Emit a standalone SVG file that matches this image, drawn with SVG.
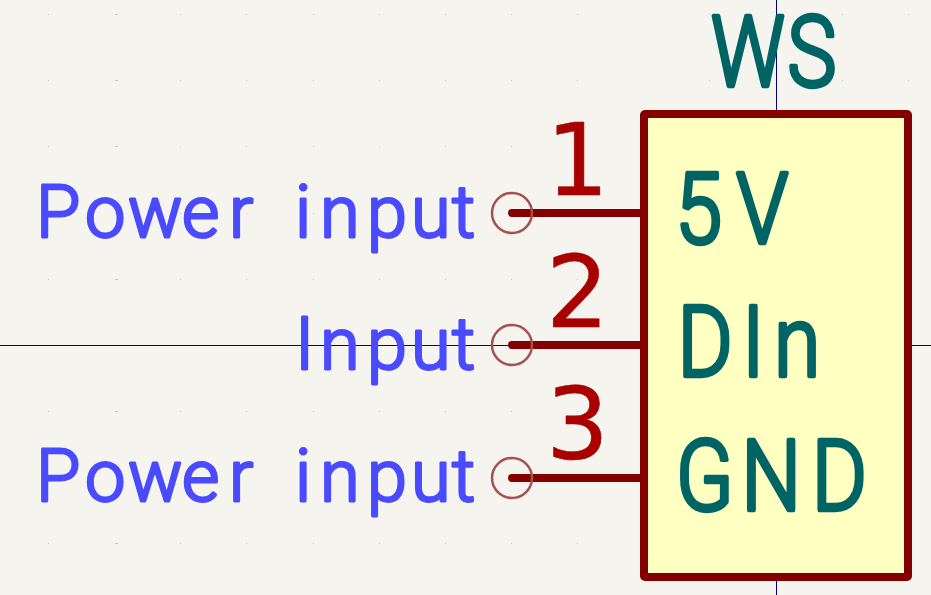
<svg xmlns="http://www.w3.org/2000/svg" width="931" height="595" viewBox="0 0 931 595">
<style>
text{font-family:"Roboto","Liberation Sans",sans-serif;font-weight:300;stroke-linejoin:round;paint-order:stroke}
.blue{fill:#4a4aff;stroke:#4a4aff;stroke-width:2.8;font-size:72px}
.teal{fill:#006464;stroke:#006464;stroke-width:4.4;font-size:98px}
.num{font-family:"DejaVu Sans",sans-serif;font-weight:400;fill:#a90000;stroke:#a90000;stroke-width:.6;font-size:99px}
.pin{stroke:#840000;stroke-width:8;stroke-linecap:round;fill:none}
.end{fill:none;stroke:#a85050;stroke-width:2.5}
.cross{stroke:#000084;stroke-width:1;fill:none}
</style>
<rect width="931" height="595" fill="#f5f4ef"/>
<path id="grid" fill="none" stroke="#c8c8c8" stroke-width="1" d="M48 14.5h1M115 14.5h3M180 14.5h1M246 14.5h1M313 14.5h1M379 14.5h1M445 14.5h1M511 14.5h1M577 14.5h1M709 14.5h1M842 14.5h1M908 14.5h1M48 80.5h1M115 80.5h3M180 80.5h1M246 80.5h1M313 80.5h1M379 80.5h1M445 80.5h1M511 80.5h1M577 80.5h1M709 80.5h1M842 80.5h1M908 80.5h1M48 146.5h1M115 146.5h3M180 146.5h1M246 146.5h1M313 146.5h1M379 146.5h1M445 146.5h1M511 146.5h1M577 146.5h1M48 213.5h1M115 213.5h3M180 213.5h1M246 213.5h1M313 213.5h1M379 213.5h1M445 213.5h1M577 213.5h1M48 279.5h1M115 279.5h3M180 279.5h1M246 279.5h1M313 279.5h1M379 279.5h1M445 279.5h1M511 279.5h1M577 279.5h1M48 411.5h1M115 411.5h3M180 411.5h1M246 411.5h1M313 411.5h1M379 411.5h1M445 411.5h1M511 411.5h1M577 411.5h1M48 543.5h1M115 543.5h3M180 543.5h1M246 543.5h1M313 543.5h1M379 543.5h1M445 543.5h1M511 543.5h1M577 543.5h1"/>
<g id="crosshair">
<path class="cross" d="M0 345.5H931M776.5 0V595"/>
</g>
<g id="symbol">
<rect x="644" y="114" width="264" height="463" rx="1" fill="#ffffc2" stroke="#840000" stroke-width="8" stroke-linejoin="round"/>
<text class="teal" transform="translate(711 86) scale(.84 1)" x="0 91" y="0">WS</text>
<text class="teal" transform="translate(676 243) scale(.86 1)" x="-1 70" y="0">5V</text>
<text class="teal" transform="translate(675 376) scale(.86 1)" x="3 78 115" y="0">DIn</text>
<text class="teal" transform="translate(676 510) scale(.86 1)" x="0 76 158" y="0">GND</text>
</g>
<g id="connectors">
<path class="pin" d="M512 213H640M512 345H640M512 478H640"/>
</g>
<g id="pin1">
<circle class="end" cx="512" cy="213" r="20"/>
<text class="num" x="546" y="194.500">1</text>
<text class="blue" x="36 85 128 182 229 280 295 320 367 411 452" y="236.500">Power input</text>
</g>
<g id="pin2">
<circle class="end" cx="512" cy="345" r="20"/>
<text class="num" x="546" y="326.500">2</text>
<text class="blue" x="295 320 367 411 452" y="368.500">Input</text>
</g>
<g id="pin3">
<circle class="end" cx="512" cy="478" r="20"/>
<text class="num" x="546" y="458.500">3</text>
<text class="blue" x="36 85 128 182 229 280 295 320 367 411 452" y="501">Power input</text>
</g>
</svg>
